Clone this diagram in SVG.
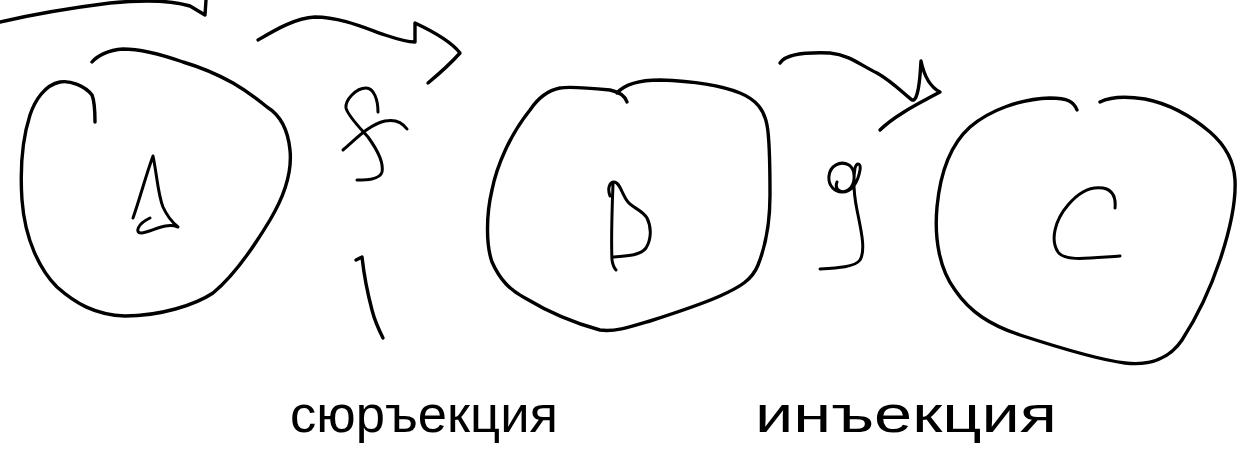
<svg xmlns="http://www.w3.org/2000/svg" width="1240" height="472" viewBox="0 0 1240 472">
<style>
.s{fill:none;stroke:#000;stroke-width:3.4;stroke-linecap:round;stroke-linejoin:round}
.t{fill:none;stroke:#000;stroke-width:3;stroke-linecap:round;stroke-linejoin:round}
.lbl{font-family:"Liberation Sans",Arial,sans-serif;font-size:52px;fill:#000}
</style>
<rect width="1240" height="472" fill="#fff"/>
<g id="node-A">
<path class="s" d="M95,122 C95,110 94,100 92,95 C85,86 70,80 60,82 C45,85 35,100 30,115 C22,140 20,170 22,200 C25,240 40,270 57,287 C75,303 95,315 125,316 C160,316 195,305 213,293 C235,275 255,245 270,220 C285,195 292,170 290,150 C288,130 280,115 267,107 C255,97 245,90 233,83 C215,73 200,67 183,62 C160,54 140,49 123,49 C108,50 97,56 92,62"/>
<path class="t" d="M133,218 C140,198 146,175 153,156 C157,175 158,195 163,207 C167,216 172,222 178,227 C165,222 152,232 141,233 C135,233 137,224 150,218"/>
</g>
<g id="node-B">
<path class="s" d="M627,102 C625,96 620,92 610,90 C590,88 570,86 560,88 C550,90 540,95 530,110 C510,135 497,165 492,190 C486,215 486,245 492,262 C500,280 510,290 525,298 C545,310 570,322 600,330 C615,332 630,327 650,321 C675,313 700,305 720,296 C740,287 752,280 758,265 C766,245 770,220 770,195 C770,165 770,140 767,125 C764,110 757,100 740,93 C720,85 690,81 660,80 C640,80 625,84 617,93"/>
<path class="t" d="M610,196 C607,188 610,182 614,182 C620,182 622,195 628,202 C633,208 642,210 647,218 C652,228 651,240 646,248 C640,256 625,256 612,257 M613,184 C612,210 611,240 612,260 C613,266 614,268 616,270"/>
</g>
<g id="node-C">
<path class="s" d="M1077,110 C1074,102 1068,98 1050,98 C1020,99 990,110 970,127 C950,145 940,175 937,207 C934,240 940,270 955,290 C970,312 990,325 1020,335 C1060,348 1100,360 1125,363 C1150,366 1170,358 1182,340 C1195,320 1210,290 1220,260 C1230,230 1236,200 1235,180 C1234,160 1225,145 1210,132 C1190,115 1170,104 1145,99 C1125,96 1110,97 1100,102"/>
<path class="t" d="M1115,208 C1116,198 1113,190 1103,188 C1090,186 1078,193 1068,205 C1055,220 1050,240 1058,252 C1065,262 1090,258 1120,256"/>
</g>
<g id="connectors">
<path class="s" d="M0,22 C30,15 70,8 110,3 C140,0 170,0 190,6 L205,15 L206,0"/>
<path class="s" d="M258,40 C275,30 295,18 315,17 C340,17 365,28 385,35 C400,40 410,42 415,42 L415,23 C430,30 450,40 460,53 C452,62 440,73 428,83"/>
<path class="s" d="M780,63 C785,55 800,52 830,53 C850,55 860,65 877,73 C893,82 905,95 912,100 C918,102 920,80 921,61 C925,80 932,88 940,92 C920,103 895,115 880,130"/>
<path class="t" d="M378,112 C378,100 374,88 366,88 C356,88 345,100 346,108 C348,116 360,128 368,137 C376,148 384,162 382,172 C380,180 365,180 357,180 M343,150 C355,140 368,125 385,121 C395,119 402,122 407,129"/>
<path class="t" d="M837,182 C834,190 842,194 848,190 C856,185 856,170 849,165 C840,160 830,166 829,176 C828,186 835,192 842,192 C852,192 858,182 860,170 C861,163 857,162 855,168 C853,180 854,195 857,210 C861,230 866,250 860,260 C855,267 838,268 820,269"/>
<path class="s" d="M356,260 L362,257 C364,275 368,295 372,310 C375,322 379,330 383,338"/>
</g>
<g id="labels">
<text class="lbl" x="290" y="432" textLength="268" lengthAdjust="spacingAndGlyphs">сюръекция</text>
<text class="lbl" x="755" y="432" textLength="302" lengthAdjust="spacingAndGlyphs">инъекция</text>
</g>
</svg>
